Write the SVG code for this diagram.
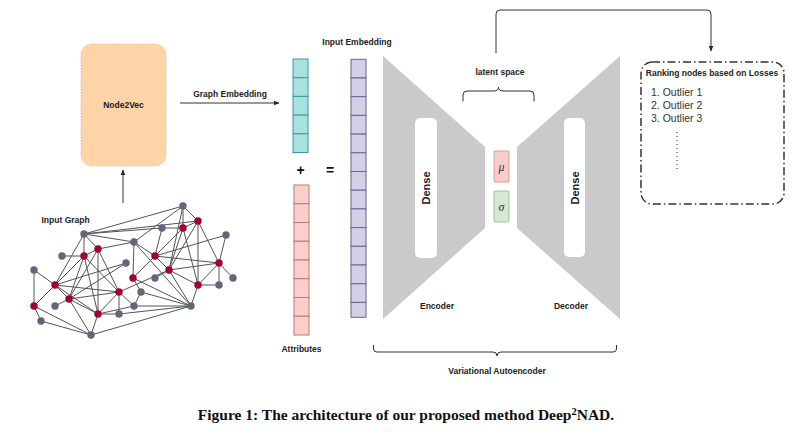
<svg xmlns="http://www.w3.org/2000/svg" width="800" height="438" viewBox="0 0 800 438">
<style>
.lbl{font-family:"Liberation Sans",Arial,sans-serif;font-weight:bold;font-size:8.5px;fill:#222}
.e{stroke:#555;stroke-width:1;fill:none}
.g{fill:#5E6878}
.r{fill:#A3002B}
.cy{fill:#A7E2E0;stroke:#3E9A9A;stroke-width:1}
.pk{fill:#F9CFCC;stroke:#C27672;stroke-width:1}
.pu{fill:#D2CFE6;stroke:#6A6590;stroke-width:1}
.ln{stroke:#333;stroke-width:1;fill:none}
.tr{fill:#CACACA}
</style>
<defs>
<marker id="ah" viewBox="0 0 10 10" refX="9" refY="5" markerWidth="6" markerHeight="6" orient="auto-start-reverse">
<path d="M0,1 L10,5 L0,9 z" fill="#222"/>
</marker>
</defs>
<rect width="800" height="438" fill="#fff"/>

<g id="connectors">
<line class="ln" x1="123" y1="203" x2="123" y2="170" marker-end="url(#ah)"/>
<line class="ln" x1="180" y1="103" x2="279" y2="103" marker-end="url(#ah)"/>
<path class="ln" d="M496,53 V14 Q496,10 500,10 H707 Q711,10 711,14 V51" marker-end="url(#ah)"/>
</g>

<g id="input-graph">
<text class="lbl" x="41.5" y="223">Input Graph</text>
<g id="edges">
<path class="e" d="M183,206L84,234M183,206L134,242M183,206L183,228M183,206L198,221M183,206L169,270M84,234L198,221M84,234L162,228M84,234L134,242M84,234L98,249M84,234L84,256M84,234L55,285M162,228L183,228M183,228L198,221M198,221L198,285M198,221L219,263M198,221L169,270M183,228L155,256M183,228L169,270M183,228L198,285M162,228L155,256M226,235L155,256M226,235L219,263M134,242L98,249M134,242L133,278M134,242L155,256M134,242L191,306M98,249L84,256M98,249L69,299M98,249L98,314M98,249L119,292M62,256L84,256M84,256L55,285M84,256L69,299M84,256L119,292M84,256L98,314M155,256L133,278M155,256L219,263M155,256L169,270M126,263L55,285M126,263L69,299M219,263L169,270M219,263L233,278M219,263L219,285M219,263L198,285M169,270L155,278M169,270L191,306M169,270L198,285M169,270L119,292M34,270L55,285M34,270L34,306M133,278L191,306M133,278L141,292M55,285L119,292M55,285L69,299M55,285L34,306M55,285L98,314M198,285L219,285M198,285L191,306M119,292L69,299M119,292L98,314M119,292L119,314M119,292L134,306M141,292L191,306M141,292L134,306M69,299L55,306M69,299L91,335M69,299L98,314M34,306L41,321M34,306L91,335M134,306L191,306M134,306L98,314M98,314L119,314M98,314L91,335M119,314L191,306M41,321L91,335M91,335L191,306"/>
</g>
<g id="graph-nodes">
<circle class="g" cx="183" cy="206" r="3.7"/>
<circle class="r" cx="198" cy="221" r="3.7"/>
<circle class="g" cx="162" cy="228" r="3.7"/>
<circle class="r" cx="183" cy="228" r="3.7"/>
<circle class="g" cx="226" cy="235" r="3.7"/>
<circle class="g" cx="84" cy="234" r="3.7"/>
<circle class="g" cx="134" cy="242" r="3.7"/>
<circle class="r" cx="98" cy="249" r="3.7"/>
<circle class="g" cx="62" cy="256" r="3.7"/>
<circle class="r" cx="84" cy="256" r="3.7"/>
<circle class="r" cx="155" cy="256" r="3.7"/>
<circle class="g" cx="126" cy="263" r="3.7"/>
<circle class="r" cx="219" cy="263" r="3.7"/>
<circle class="r" cx="169" cy="270" r="3.7"/>
<circle class="g" cx="34" cy="270" r="3.7"/>
<circle class="r" cx="133" cy="278" r="3.7"/>
<circle class="g" cx="155" cy="278" r="3.7"/>
<circle class="g" cx="233" cy="278" r="3.7"/>
<circle class="r" cx="55" cy="285" r="3.7"/>
<circle class="r" cx="198" cy="285" r="3.7"/>
<circle class="g" cx="219" cy="285" r="3.7"/>
<circle class="r" cx="119" cy="292" r="3.7"/>
<circle class="g" cx="141" cy="292" r="3.7"/>
<circle class="r" cx="69" cy="299" r="3.7"/>
<circle class="r" cx="34" cy="306" r="3.7"/>
<circle class="g" cx="55" cy="306" r="3.7"/>
<circle class="g" cx="134" cy="306" r="3.7"/>
<circle class="g" cx="191" cy="306" r="3.7"/>
<circle class="r" cx="98" cy="314" r="3.7"/>
<circle class="g" cx="119" cy="314" r="3.7"/>
<circle class="g" cx="41" cy="321" r="3.7"/>
<circle class="g" cx="91" cy="335" r="3.7"/>
</g>
</g>

<g id="node2vec">
<rect x="81" y="44" width="85" height="122" rx="11" fill="#FDD3A8" stroke="#F0C090" stroke-width="1" stroke-dasharray="1.5 1.5"/>
<text class="lbl" x="123.5" y="108" text-anchor="middle">Node2Vec</text>
</g>

<g id="graph-embedding-label">
<text class="lbl" x="230" y="97" text-anchor="middle">Graph Embedding</text>
</g>

<g id="graph-vector">
<rect class="cy" x="293" y="59" width="15" height="18.7"/>
<rect class="cy" x="293" y="77.7" width="15" height="18.7"/>
<rect class="cy" x="293" y="96.4" width="15" height="18.7"/>
<rect class="cy" x="293" y="115.1" width="15" height="18.7"/>
<rect class="cy" x="293" y="133.8" width="15" height="18.7"/>
</g>

<g id="plus"><text x="300.5" y="175" text-anchor="middle" font-family="Liberation Sans,Arial,sans-serif" font-weight="bold" font-size="14" fill="#111">+</text></g>
<g id="equals"><text x="330" y="175" text-anchor="middle" font-family="Liberation Sans,Arial,sans-serif" font-weight="bold" font-size="14" fill="#111">=</text></g>

<g id="attributes">
<rect class="pk" x="294" y="185" width="15" height="18.75"/>
<rect class="pk" x="294" y="203.75" width="15" height="18.75"/>
<rect class="pk" x="294" y="222.5" width="15" height="18.75"/>
<rect class="pk" x="294" y="241.25" width="15" height="18.75"/>
<rect class="pk" x="294" y="260" width="15" height="18.75"/>
<rect class="pk" x="294" y="278.75" width="15" height="18.75"/>
<rect class="pk" x="294" y="297.5" width="15" height="18.75"/>
<rect class="pk" x="294" y="316.25" width="15" height="18.75"/>
<text class="lbl" x="301.5" y="352" text-anchor="middle">Attributes</text>
</g>

<g id="input-embedding">
<text class="lbl" x="357" y="45" text-anchor="middle">Input Embedding</text>
<rect class="pu" x="351" y="59.3" width="15" height="18.7"/>
<rect class="pu" x="351" y="78" width="15" height="18.7"/>
<rect class="pu" x="351" y="96.7" width="15" height="18.7"/>
<rect class="pu" x="351" y="115.4" width="15" height="18.7"/>
<rect class="pu" x="351" y="134.1" width="15" height="18.7"/>
<rect class="pu" x="351" y="152.8" width="15" height="18.7"/>
<rect class="pu" x="351" y="171.5" width="15" height="18.7"/>
<rect class="pu" x="351" y="190.2" width="15" height="18.7"/>
<rect class="pu" x="351" y="208.9" width="15" height="18.7"/>
<rect class="pu" x="351" y="227.6" width="15" height="18.7"/>
<rect class="pu" x="351" y="246.3" width="15" height="18.7"/>
<rect class="pu" x="351" y="265" width="15" height="18.7"/>
<rect class="pu" x="351" y="283.7" width="15" height="18.7"/>
<rect class="pu" x="351" y="302.4" width="15" height="14.9"/>
</g>

<g id="encoder">
<polygon class="tr" points="383,56 485,147 485,228 383,319"/>
<rect x="415" y="118" width="22" height="140" rx="5" fill="#fff"/>
<text class="lbl" transform="translate(430,188) rotate(-90)" text-anchor="middle" style="font-size:11px">Dense</text>
<text class="lbl" x="437" y="309" text-anchor="middle">Encoder</text>
</g>

<g id="latent-space">
<text class="lbl" x="500" y="75" text-anchor="middle">latent space</text>
<path class="ln" d="M463,101.5 V95 Q463,91 467,91 H494 Q498.5,91 498.5,87 Q498.5,91 503,91 H530 Q534,91 534,95 V101.5" stroke-width="0.9"/>
<rect x="494" y="151" width="15" height="31" rx="1" fill="#F8CECC" stroke="#D08A86" stroke-width="0.8"/>
<text x="501.5" y="170.5" text-anchor="middle" font-family="Liberation Serif,serif" font-style="italic" font-size="12" fill="#333">μ</text>
<rect x="494" y="191" width="15" height="31" rx="1" fill="#D5E8D4" stroke="#8DBA7A" stroke-width="0.8"/>
<text x="501.5" y="210.5" text-anchor="middle" font-family="Liberation Serif,serif" font-style="italic" font-size="12" fill="#333">σ</text>
</g>

<g id="decoder">
<polygon class="tr" points="620,56 517,147 517,228 620,319"/>
<rect x="564" y="118" width="21" height="139" rx="5" fill="#fff"/>
<text class="lbl" transform="translate(578.5,188) rotate(-90)" text-anchor="middle" style="font-size:11px">Dense</text>
<text class="lbl" x="571" y="309" text-anchor="middle">Decoder</text>
</g>

<g id="vae-brace">
<path class="ln" d="M373.5,345 V349 Q373.5,352 377,352 H493 Q497,352 497,356 Q497,352 501,352 H613 Q616.5,352 616.5,349 V345" stroke-width="0.9"/>
<text class="lbl" x="497" y="374" text-anchor="middle">Variational Autoencoder</text>
</g>

<g id="ranking">
<rect x="641" y="62" width="143" height="142" rx="11" fill="none" stroke="#333" stroke-width="1.5" stroke-dasharray="8 3 1.5 3"/>
<text class="lbl" x="712" y="76" text-anchor="middle">Ranking nodes based on Losses</text>
<g font-family="Liberation Sans,Arial,sans-serif" font-size="10.5" fill="#333">
<text x="651" y="96">1. Outlier 1</text>
<text x="651" y="109">2. Outlier 2</text>
<text x="651" y="122">3. Outlier 3</text>
</g>
<line x1="677" y1="132" x2="677" y2="169" stroke="#444" stroke-width="1.2" stroke-dasharray="1 3"/>
</g>

<g id="caption">
<text x="406" y="420" text-anchor="middle" font-family="Liberation Serif,Times New Roman,serif" font-weight="bold" font-size="15.5" fill="#111">Figure 1: The architecture of our proposed method Deep<tspan dy="-5" font-size="10.5">2</tspan><tspan dy="5">NAD.</tspan></text>
</g>
</svg>
